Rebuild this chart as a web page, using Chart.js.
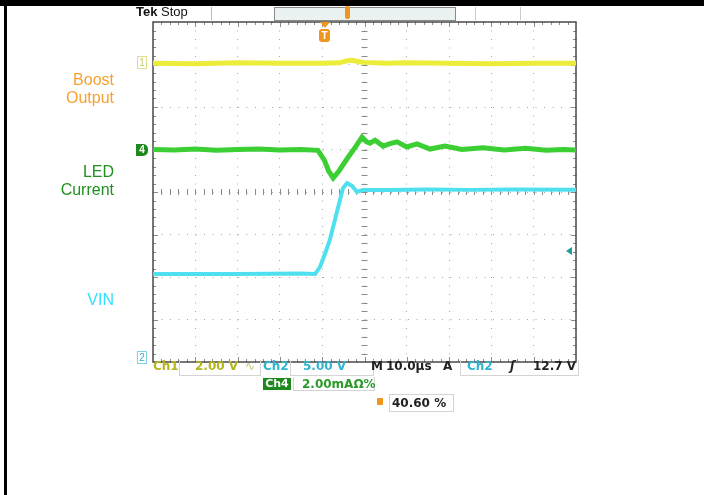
<!DOCTYPE html>
<html>
<head>
<meta charset="utf-8">
<script src="https://cdn.jsdelivr.net/npm/chart.js@4.4.1/dist/chart.umd.min.js"></script>
<style>
  body { margin: 0; background: #fff; }
  #wrap { position: relative; width: 704px; height: 495px; overflow: hidden; font-family: "Liberation Sans", Arial, sans-serif; }
  #wrap canvas { position: absolute; left: 0; top: 0; }
  .t { position: absolute; white-space: nowrap; line-height: 14px; }
  .s { font-family: "DejaVu Sans", sans-serif; font-weight: bold; font-size: 12px; }
  .lbl { position: absolute; right: 590px; text-align: right; font-size: 16px; line-height: 18px; }
  .box { position: absolute; border: 1px solid #d4d4d4; }
</style>
</head>
<body>
<div id="wrap">
  <canvas id="scope" width="704" height="495"></canvas>

  <!-- black frame of the screenshot -->
  <div style="position:absolute;left:0;top:0;width:704px;height:6px;background:#000"></div>
  <div style="position:absolute;left:4px;top:0;width:3px;height:495px;background:#000"></div>

  <!-- top status line -->
  <div class="t" style="left:136px;top:5px;font-size:13px;font-weight:bold;color:#111">Tek <span style="font-weight:normal">Stop</span></div>
  <div style="position:absolute;left:211px;top:7px;width:1px;height:13px;background:#bbb"></div>
  <div style="position:absolute;left:274px;top:7px;width:180px;height:12px;background:#eaf3f1;border:1px solid #8a8a8a"></div>
  <div style="position:absolute;left:345px;top:6px;width:5px;height:13px;background:#f0961e;border-radius:2px"></div>
  <div style="position:absolute;left:475px;top:7px;width:1px;height:13px;background:#ccc"></div>
  <div style="position:absolute;left:520px;top:7px;width:1px;height:13px;background:#ccc"></div>

  <!-- trigger position marker -->
  <div style="position:absolute;left:320px;top:22px;width:0;height:0;border-left:5px solid transparent;border-right:5px solid transparent;border-top:6px solid #f0961e"></div>
  <div class="t" style="left:319px;top:29px;width:11px;height:13px;line-height:13px;background:#f0961e;border-radius:3px;color:#fff;font-size:10px;font-weight:bold;text-align:center">T</div>

  <!-- channel ground markers -->
  <div class="t" style="left:137px;top:56px;width:8px;height:11px;line-height:11px;border:1px solid #dede90;color:#c8c860;font-size:10px;text-align:center">1</div>
  <div class="t" style="left:136px;top:144px;width:12px;height:12px;line-height:12px;background:#1e8a1e;color:#fff;font-size:10px;font-weight:bold;text-align:center;border-radius:0 5px 5px 0">4</div>
  <div class="t" style="left:137px;top:351px;width:8px;height:11px;line-height:11px;border:1px solid #7fd2e6;color:#3aa6c6;font-size:10px;text-align:center">2</div>

  <!-- trigger level marker -->
  <div style="position:absolute;left:566px;top:247px;width:0;height:0;border-top:4px solid transparent;border-bottom:4px solid transparent;border-right:6px solid #1b9c9c"></div>

  <!-- left trace labels -->
  <div class="lbl" style="top:71px;color:#f7a030">Boost<br>Output</div>
  <div class="lbl" style="top:163px;color:#1f8f1f">LED<br>Current</div>
  <div class="lbl" style="top:291px;color:#33e0ff">VIN</div>

  <!-- bottom readout -->
  <div class="box" style="left:179px;top:360px;width:80px;height:15px;border-top:none"></div>
  <div class="box" style="left:290px;top:360px;width:82px;height:15px;border-top:none"></div>
  <div class="box" style="left:460px;top:360px;width:117px;height:15px;border-top:none"></div>
  <div class="box" style="left:293px;top:377px;width:80px;height:13px;border-top:none"></div>
  <div class="box" style="left:389px;top:394px;width:63px;height:16px"></div>

  <div class="t s" style="left:153px;top:359px;color:#b5b51e">Ch1</div>
  <div class="t s" style="left:195px;top:359px;color:#b5b51e">2.00 V</div>
  <div class="t s" style="left:245px;top:359px;color:#c8c860;font-weight:normal">∿</div>
  <div class="t s" style="left:263px;top:359px;color:#2fb5cf">Ch2</div>
  <div class="t s" style="left:303px;top:359px;color:#2fb5cf">5.00 V</div>
  <div class="t s" style="left:371px;top:359px;color:#222">M</div>
  <div class="t s" style="left:386px;top:359px;color:#222">10.0µs</div>
  <div class="t s" style="left:443px;top:359px;color:#222">A</div>
  <div class="t s" style="left:467px;top:359px;color:#2fb5cf">Ch2</div>
  <div class="t s" style="left:510px;top:359px;color:#222;font-style:italic">ʃ</div>
  <div class="t s" style="left:533px;top:359px;color:#222">12.7 V</div>

  <div class="t s" style="left:263px;top:378px;width:28px;height:12px;line-height:12px;background:#1e8a1e;color:#fff;font-size:11px;text-align:center">Ch4</div>
  <div class="t s" style="left:302px;top:377px;color:#2a9a2a">2.00mAΩ%</div>

  <div style="position:absolute;left:377px;top:398px;width:6px;height:7px;background:#f0961e;border-radius:1px"></div>
  <div class="t s" style="left:392px;top:396px;color:#222">40.60 %</div>
</div>

<script>
// Graticule: 10 horizontal divisions of 10 µs, 8 vertical divisions
const timeMin = -50;
const timeMax = 50;
const timePerDiv = 10;
const divMin = -4;
const divMax = 4;

// Ch1 - Boost Output (divisions from screen centre)
const boostTime = [-50, -40, -30, -20, -10, -6, -4, -3, -1, 0, 5, 10, 20, 30, 40, 50];
const boostDiv  = [3.03, 3.02, 3.04, 3.03, 3.03, 3.04, 3.09, 3.1, 3.06, 3.05, 3.03, 3.04, 3.03, 3.02, 3.03, 3.03];

// Ch4 - LED Current
const ledTime = [-50, -45, -40, -35, -30, -25, -20, -15, -11, -9.5, -8.5, -7.4, -6, -4, -2, -0.6, 0.5, 1.3, 2.5, 4.4, 6, 7.7, 10, 12.4, 15.5, 19, 23, 28, 33, 38, 43, 47, 50];
const ledDiv  = [1.0, 0.99, 1.01, 0.98, 1.0, 1.01, 0.99, 1.0, 0.98, 0.75, 0.5, 0.33, 0.5, 0.8, 1.08, 1.29, 1.18, 1.15, 1.22, 1.08, 1.14, 1.18, 1.06, 1.13, 1.01, 1.08, 1.0, 1.04, 0.99, 1.03, 0.98, 1.0, 0.99];

// Ch2 - VIN
const vinTime = [-50, -30, -15, -11.7, -10.5, -9.3, -8.2, -7.0, -5.8, -5.1, -4.1, -2.9, -1.8, -0.4, 5, 15, 25, 35, 50];
const vinDiv  = [-1.93, -1.93, -1.92, -1.93, -1.76, -1.44, -1.13, -0.66, -0.19, 0.09, 0.21, 0.14, 0.0, 0.05, 0.05, 0.06, 0.05, 0.06, 0.05];

const toPoints = (xs, ys) => xs.map((x, i) => ({ x: x, y: ys[i] }));

// minor ticks on the frame and on the centre cross, plus the frame itself
const graticule = {
    id: 'graticule',
    beforeDatasetsDraw(chart) {
        const { ctx, chartArea: a, scales: { x, y } } = chart;
        const cx = x.getPixelForValue(0);
        const cy = y.getPixelForValue(0);
        ctx.save();
        ctx.strokeStyle = '#8c8c8c';
        ctx.lineWidth = 1;
        ctx.beginPath();
        const xSteps = (timeMax - timeMin) / (timePerDiv / 5);
        for (let i = 1; i < xSteps; i++) {
            const px = Math.round(x.getPixelForValue(timeMin + i * timePerDiv / 5)) + 0.5;
            const len = i % 5 === 0 ? 5 : 3;
            ctx.moveTo(px, a.top); ctx.lineTo(px, a.top + len);
            ctx.moveTo(px, a.bottom); ctx.lineTo(px, a.bottom - len);
            ctx.moveTo(px, cy - 3); ctx.lineTo(px, cy + 3);
        }
        const ySteps = (divMax - divMin) * 5;
        for (let i = 1; i < ySteps; i++) {
            const py = Math.round(y.getPixelForValue(divMin + i / 5)) + 0.5;
            const len = i % 5 === 0 ? 5 : 3;
            ctx.moveTo(a.left, py); ctx.lineTo(a.left + len, py);
            ctx.moveTo(a.right, py); ctx.lineTo(a.right - len, py);
            ctx.moveTo(cx - 3, py); ctx.lineTo(cx + 3, py);
        }
        ctx.stroke();
        ctx.strokeStyle = '#4a4a4a';
        ctx.lineWidth = 1.5;
        ctx.strokeRect(a.left, a.top, a.width, a.height);
        ctx.restore();
    }
};

const trace = (data, color, width) => ({
    data: data,
    borderColor: color,
    borderWidth: width,
    pointRadius: 0,
    tension: 0,
    fill: false
});

new Chart(document.getElementById('scope').getContext('2d'), {
    type: 'line',
    data: {
        datasets: [
            trace(toPoints(vinTime, vinDiv), '#4fe0ef', 4),
            trace(toPoints(ledTime, ledDiv), '#3ccf34', 5),
            trace(toPoints(boostTime, boostDiv), '#ecec3a', 5)
        ]
    },
    options: {
        responsive: false,
        animation: false,
        layout: { padding: { left: 153, top: 22, right: 128, bottom: 133 } },
        plugins: { legend: { display: false }, tooltip: { enabled: false } },
        scales: {
            x: {
                type: 'linear',
                min: timeMin,
                max: timeMax,
                ticks: { display: false, stepSize: timePerDiv },
                grid: { color: '#a8a8a8', lineWidth: 1, drawTicks: false },
                border: { display: false, dash: [1, 7.5] }
            },
            y: {
                type: 'linear',
                min: divMin,
                max: divMax,
                ticks: { display: false, stepSize: 1 },
                grid: { color: '#a8a8a8', lineWidth: 1, drawTicks: false },
                border: { display: false, dash: [1, 7.5] }
            }
        }
    },
    plugins: [graticule]
});
</script>
</body>
</html>
